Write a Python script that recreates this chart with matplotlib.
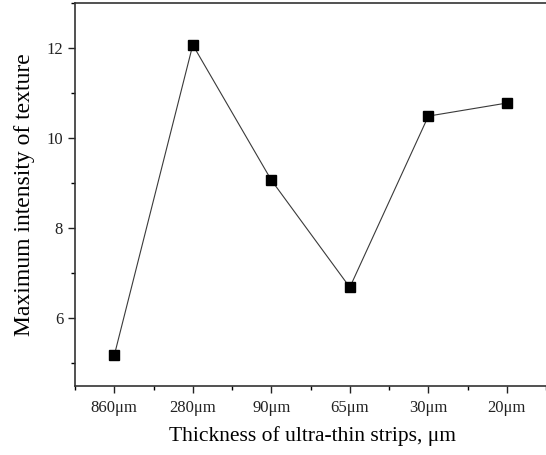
import matplotlib
matplotlib.use("Agg")
import matplotlib.pyplot as plt
from matplotlib.ticker import MultipleLocator

plt.rcParams['font.family'] = ['Liberation Serif', 'DejaVu Serif']

# texture maximum intensity vs. strip thickness
thickness = ['860\u03bcm', '280\u03bcm', '90\u03bcm', '65\u03bcm', '30\u03bcm', '20\u03bcm']
intensity = [5.18, 12.07, 9.07, 6.69, 10.49, 10.78]

fig = plt.figure(figsize=(5.46, 4.55), dpi=100)
ax = fig.add_axes([0.1374, 0.1516, 0.87, 0.8418])

x = list(range(len(thickness)))
ax.plot(x, intensity, color='#3a3a3a', linewidth=0.8, marker='s',
        markersize=6.5, markerfacecolor='black', markeredgecolor='black')

ax.set_xlim(-0.5, 5.55)
ax.set_ylim(4.5, 13)
ax.set_xticks(x)
ax.set_xticklabels(thickness)
ax.xaxis.set_minor_locator(MultipleLocator(0.5))
ax.yaxis.set_major_locator(MultipleLocator(2))
ax.yaxis.set_minor_locator(MultipleLocator(1))

ax.tick_params(which='major', direction='out', length=5, width=1, labelsize=12, colors='#222222')
ax.tick_params(which='minor', direction='out', length=3, width=1)
ax.tick_params(axis='x', pad=5)

for side in ['left', 'bottom', 'top']:
    ax.spines[side].set_linewidth(1.2)
    ax.spines[side].set_color('#333333')
ax.spines['right'].set_visible(False)

ax.set_xlabel('Thickness of ultra-thin strips, \u03bcm', fontsize=15.5, labelpad=7)
ax.set_ylabel('Maximum intensity of texture', fontsize=17, labelpad=8)

fig.savefig('out.png', dpi=100)
